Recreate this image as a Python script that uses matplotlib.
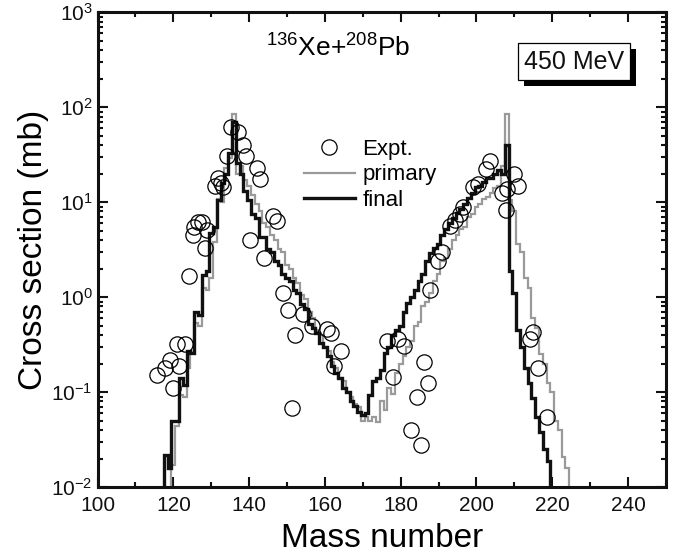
import numpy as np
import matplotlib
matplotlib.use("Agg")
import matplotlib.pyplot as plt
import matplotlib.transforms as mtransforms
from matplotlib.patches import Rectangle
from matplotlib.ticker import MultipleLocator, LogLocator, NullFormatter

plt.rcParams['font.family'] = ['Liberation Sans', 'DejaVu Sans']
plt.rcParams['mathtext.fontset'] = 'custom'
plt.rcParams['mathtext.rm'] = 'Liberation Sans'
plt.rcParams['mathtext.it'] = 'Liberation Sans:italic'
plt.rcParams['axes.unicode_minus'] = False

# final distribution, one bin per mass number
final_A = np.arange(118, 220)
final_sigma = [
    0.022, 0.016, 0.05, 0.05, 0.14, 0.12, 0.27, 0.26, 0.7, 0.65,      # 118-127
    1.7, 1.9, 4.7, 5.5, 10.5, 16, 20, 33, 70, 26,                     # 128-137
    20, 13, 10.5, 7.5, 6.8, 4.3, 4.3, 3.2, 3.0, 2.4,                  # 138-147
    2.2, 1.75, 1.6, 1.5, 1.2, 1.1, 0.85, 0.75, 0.52, 0.48,            # 148-157
    0.42, 0.33, 0.3, 0.24, 0.19, 0.16, 0.14, 0.11, 0.1, 0.08,         # 158-167
    0.072, 0.062, 0.058, 0.06, 0.093, 0.13, 0.14, 0.17, 0.26, 0.3,    # 168-177
    0.4, 0.45, 0.5, 0.7, 0.87, 1.0, 1.2, 1.5, 1.75, 2.4,              # 178-187
    2.9, 3.3, 3.6, 4.5, 5.2, 6.0, 6.8, 7.8, 8.5, 9.5,                 # 188-197
    11, 12.5, 14.4, 15, 16.5, 18, 18, 20, 22, 20,                     # 198-207
    40, 1.9, 1.1, 0.45, 0.3, 0.18, 0.126, 0.087, 0.055, 0.038,        # 208-217
    0.025, 0.019,                                                     # 218-219
]

# primary distribution
primary_A = np.arange(120, 225)
primary_sigma = [
    0.017, 0.044, 0.093, 0.09, 0.18, 0.26, 0.54, 0.5, 1.25, 1.2,      # 120-129
    1.6, 3.8, 10.7, 10, 23, 29, 85, 20, 24, 17,                       # 130-139
    15, 12, 9.5, 8.0, 6.0, 5.5, 4.5, 4.0, 3.2, 3.0,                   # 140-149
    2.2, 2.0, 1.6, 1.4, 1.05, 0.95, 0.7, 0.6, 0.45, 0.4,              # 150-159
    0.3, 0.27, 0.21, 0.18, 0.14, 0.13, 0.1, 0.09, 0.075, 0.07,        # 160-169
    0.05, 0.055, 0.05, 0.055, 0.048, 0.08, 0.065, 0.11, 0.095, 0.16,  # 170-179
    0.2, 0.24, 0.3, 0.35, 0.5, 0.55, 0.8, 0.9, 1.1, 1.5,              # 180-189
    1.75, 2.4, 2.6, 3.2, 4.0, 4.5, 5.2, 5.5, 7.0, 7.5,                # 190-199
    8.9, 9.5, 10.7, 11.5, 12.6, 14, 15, 24, 85, 10.5,                 # 200-209
    8.0, 3.6, 3.0, 1.6, 1.25, 0.6, 0.48, 0.25, 0.2, 0.126,            # 210-219
    0.1, 0.05, 0.04, 0.021, 0.016,                                    # 220-224
]

# measured yields
expt_A = [115.8, 117.7, 119.0, 120.0, 120.9, 121.5, 123.0, 124.1, 125.2, 125.5,
          126.6, 127.6, 128.3, 128.9, 131.0, 131.7, 132.7, 133.2, 134.2, 135.3,
          137.0, 138.5, 139.2, 140.3, 142.1, 142.9, 144.0, 146.3, 147.3, 149.0,
          150.3, 151.3, 152.2, 154.3, 156.5, 160.5, 161.6, 162.5, 164.3, 176.5,
          177.9, 179.4, 180.8, 182.6, 184.2, 185.5, 186.2, 187.3, 187.8, 189.8,
          190.9, 193.0, 194.4, 195.6, 196.5, 199.2, 200.5, 202.6, 203.6, 206.8,
          207.9, 208.0, 209.8, 211.0, 214.2, 214.9, 216.3, 218.5]
expt_sigma = [0.15, 0.18, 0.22, 0.11, 0.32, 0.19, 0.32, 1.66, 4.5, 5.5,
              6.2, 6.2, 3.3, 5.1, 15, 18, 16, 14.5, 31, 62,
              55, 40, 31, 4.0, 23, 17.5, 2.6, 7.2, 6.3, 1.1,
              0.74, 0.069, 0.40, 0.66, 0.50, 0.46, 0.42, 0.19, 0.27, 0.35,
              0.145, 0.36, 0.31, 0.04, 0.09, 0.028, 0.21, 0.125, 1.2, 2.4,
              3.0, 5.6, 6.5, 7.6, 8.9, 14.5, 15.5, 22.5, 27, 12.6,
              8.2, 13.8, 20, 14.8, 0.36, 0.43, 0.18, 0.055]

fig = plt.figure(figsize=(6.75, 5.6), dpi=100)
ax = fig.add_axes([0.1445, 0.130, 0.842, 0.848])

floor = 1e-3
ax.stairs(primary_sigma, np.append(primary_A - 0.5, primary_A[-1] + 0.5),
          baseline=floor, color='#9a9a9a', lw=1.6, label='primary', zorder=2)
ax.stairs(final_sigma, np.append(final_A - 0.5, final_A[-1] + 0.5),
          baseline=floor, color='#111111', lw=2.4, label='final', zorder=3)
ax.plot(expt_A, expt_sigma, 'o', ms=11, mfc='none', mec='black', mew=0.9,
        label='Expt.', zorder=4)

ax.set_yscale('log')
ax.set_xlim(100, 250)
ax.set_ylim(1e-2, 1e3)
ax.xaxis.set_major_locator(MultipleLocator(20))
ax.xaxis.set_minor_locator(MultipleLocator(10))
ax.yaxis.set_major_locator(LogLocator(base=10, numticks=10))
ax.yaxis.set_minor_locator(LogLocator(base=10, subs=np.arange(2, 10), numticks=20))
ax.yaxis.set_minor_formatter(NullFormatter())
ax.tick_params(which='both', direction='in', top=True, right=True, width=1.5,
               labelsize=15, colors='#111111')
ax.tick_params(axis='x', which='major', pad=6)
ax.tick_params(which='major', length=7)
ax.tick_params(which='minor', length=3.5)
for s in ax.spines.values():
    s.set_linewidth(2.2)
    s.set_color('#111111')

ax.set_xlabel('Mass number', fontsize=24, labelpad=6)
ax.set_ylabel('Cross section (mb)', fontsize=24, labelpad=2)

ax.text(0.423, 0.925, r'$^{136}$Xe+$^{208}$Pb', transform=ax.transAxes,
        fontsize=19, ha='center', va='center')

# energy label, with a solid shadow box offset down-right
label = ax.text(0.838, 0.896, '450 MeV', transform=ax.transAxes, color='#111111',
                fontsize=18, ha='center', va='center', zorder=6,
                bbox=dict(boxstyle='square,pad=0.25', fc='white', ec='black', lw=0.9))
fig.canvas.draw()
bb = label.get_bbox_patch().get_window_extent()
ax.add_artist(Rectangle((bb.x0 + 6, bb.y0 - 6), bb.width, bb.height,
                        transform=mtransforms.IdentityTransform(),
                        fc='black', ec='none', zorder=5))

handles, labels = ax.get_legend_handles_labels()
order = [2, 0, 1]
ax.legend([handles[i] for i in order], [labels[i] for i in order],
          loc='upper left', bbox_to_anchor=(0.347, 0.752), frameon=False,
          fontsize=16, handlelength=2.3, handletextpad=0.35, labelspacing=0.2,
          borderaxespad=0)

fig.savefig('out.png', dpi=100)
